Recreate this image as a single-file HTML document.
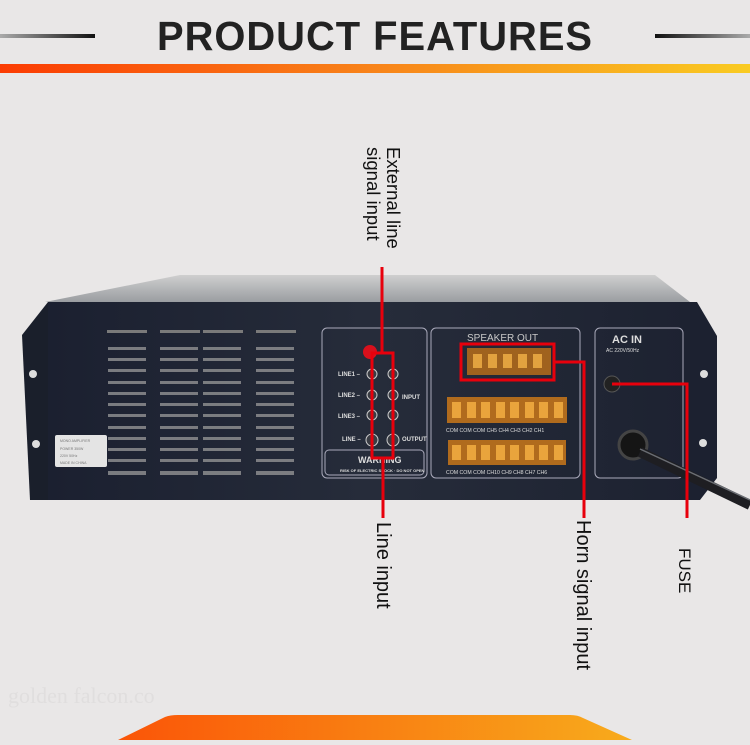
<!DOCTYPE html>
<html><head><meta charset="utf-8"><style>
html,body{margin:0;padding:0;}
body{width:750px;height:740px;overflow:hidden;background:#e9e7e7;font-family:"Liberation Sans",sans-serif;}
</style></head><body>
<svg width="750" height="740" viewBox="0 0 750 740" xmlns="http://www.w3.org/2000/svg">
<defs>
<linearGradient id="bar" x1="0" x2="1"><stop offset="0" stop-color="#fb3c03"/><stop offset="0.5" stop-color="#f8841a"/><stop offset="1" stop-color="#f9cb22"/></linearGradient>
<linearGradient id="bot" x1="0" x2="1"><stop offset="0" stop-color="#fa5508"/><stop offset="1" stop-color="#f8ab1c"/></linearGradient>
<linearGradient id="ll" x1="0" x2="1"><stop offset="0" stop-color="#aaa"/><stop offset="1" stop-color="#111"/></linearGradient>
<linearGradient id="rl" x1="0" x2="1"><stop offset="0" stop-color="#111"/><stop offset="1" stop-color="#aaa"/></linearGradient>
<linearGradient id="face" x1="0" x2="1"><stop offset="0" stop-color="#1b2030"/><stop offset="0.5" stop-color="#262c3a"/><stop offset="1" stop-color="#1d2231"/></linearGradient>
<linearGradient id="top" x1="0" y1="0" x2="0" y2="1"><stop offset="0" stop-color="#cfcfcf"/><stop offset="1" stop-color="#9a9da1"/></linearGradient>
</defs>
<rect width="750" height="740" fill="#e9e7e7"/>
<rect x="0" y="34" width="95" height="4" fill="url(#ll)"/>
<rect x="655" y="34" width="95" height="4" fill="url(#rl)"/>
<text x="375" y="50" text-anchor="middle" font-family="Liberation Sans" font-weight="bold" font-size="41" fill="#222" letter-spacing="1" textLength="436" lengthAdjust="spacingAndGlyphs">PRODUCT FEATURES</text>
<rect x="0" y="64" width="750" height="9" fill="url(#bar)"/>
<polygon points="45,302 180,275 655,275 690,302" fill="url(#top)"/>
<polygon points="22,335 48,302 50,500 30,500" fill="#1a1f2b"/>
<polygon points="687,302 697,302 717,336 717,478 700,500 690,500" fill="#1c2130"/>
<rect x="48" y="302" width="642" height="198" fill="url(#face)"/>
<circle cx="33" cy="374" r="4" fill="#ddd"/><circle cx="36" cy="444" r="4" fill="#ddd"/>
<circle cx="704" cy="374" r="4" fill="#ddd"/><circle cx="703" cy="443" r="4" fill="#ddd"/>
<g fill="#7a7a7a">
<rect x="107" y="330" width="40" height="3"/><rect x="160" y="330" width="40" height="3"/><rect x="203" y="330" width="40" height="3"/><rect x="256" y="330" width="40" height="3"/>
</g>
<g id="slats" fill="#9a9a9a" opacity="0.75">
<rect x="108" y="347" width="38" height="3"/><rect x="108" y="358" width="38" height="3"/><rect x="108" y="369" width="38" height="3"/><rect x="108" y="381" width="38" height="3"/><rect x="108" y="392" width="38" height="3"/><rect x="108" y="403" width="38" height="3"/><rect x="108" y="414" width="38" height="3"/><rect x="108" y="426" width="38" height="3"/><rect x="108" y="437" width="38" height="3"/><rect x="108" y="448" width="38" height="3"/><rect x="108" y="459" width="38" height="3"/><rect x="108" y="471" width="38" height="4"/>
</g>
<use href="#slats" x="52"/><use href="#slats" x="95"/><use href="#slats" x="148"/>
<rect x="55" y="435" width="52" height="32" fill="#e4e4e4" rx="2"/>
<g fill="#777" font-size="3.5"><text x="60" y="442">MONO AMPLIFIER</text><text x="60" y="450">POWER 350W</text><text x="60" y="457">220V 50Hz</text><text x="60" y="464">MADE IN CHINA</text></g>
<g fill="none" stroke="#aab" stroke-width="1">
<rect x="322" y="328" width="105" height="150" rx="5"/>
<rect x="431" y="328" width="149" height="150" rx="5"/>
<rect x="595" y="328" width="88" height="150" rx="5"/>
<rect x="325" y="450" width="99" height="25" rx="4"/>
</g>
<g fill="#ddd" font-size="6" font-weight="bold">
<text x="338" y="376">LINE1 –</text><text x="338" y="397">LINE2 –</text><text x="338" y="418">LINE3 –</text><text x="342" y="441">LINE –</text>
<text x="402" y="399">INPUT</text><text x="402" y="441">OUTPUT</text>
<text x="358" y="463" font-size="9">WARNING</text><text x="340" y="472" font-size="4">RISK OF ELECTRIC SHOCK · DO NOT OPEN</text>
<text x="467" y="341" font-size="10" font-weight="normal" fill="#c8c8c8">SPEAKER OUT</text>
<text x="612" y="343" font-size="11" fill="#ddd">AC IN</text>
<text x="606" y="352" font-size="5" font-weight="normal">AC 220V/50Hz</text>
</g>
<g fill="#3a3d44" stroke="#ccc" stroke-width="1">
<circle cx="372" cy="374" r="5"/><circle cx="393" cy="374" r="5"/><circle cx="372" cy="395" r="5"/><circle cx="393" cy="395" r="5"/><circle cx="372" cy="415" r="5"/><circle cx="393" cy="415" r="5"/><circle cx="372" cy="440" r="6"/><circle cx="393" cy="440" r="6"/>
</g>
<circle cx="370" cy="352" r="7" fill="#d8101c"/>
<rect x="467" y="348" width="84" height="27" fill="#a0621e"/>
<rect x="447" y="397" width="120" height="26" fill="#b06b1d"/>
<rect x="448" y="440" width="118" height="25" fill="#b06b1d"/>
<g fill="#e3a23f"><rect x="473" y="354" width="9" height="14"/><rect x="488" y="354" width="9" height="14"/><rect x="503" y="354" width="9" height="14"/><rect x="518" y="354" width="9" height="14"/><rect x="533" y="354" width="9" height="14"/></g>
<g fill="#e9a43c"><rect x="452" y="402" width="9" height="16"/><rect x="467" y="402" width="9" height="16"/><rect x="481" y="402" width="9" height="16"/><rect x="496" y="402" width="9" height="16"/><rect x="510" y="402" width="9" height="16"/><rect x="525" y="402" width="9" height="16"/><rect x="539" y="402" width="9" height="16"/><rect x="554" y="402" width="9" height="16"/>
<rect x="452" y="445" width="9" height="15"/><rect x="467" y="445" width="9" height="15"/><rect x="481" y="445" width="9" height="15"/><rect x="496" y="445" width="9" height="15"/><rect x="510" y="445" width="9" height="15"/><rect x="525" y="445" width="9" height="15"/><rect x="539" y="445" width="9" height="15"/><rect x="554" y="445" width="9" height="15"/></g>
<g fill="#ddd" font-size="5.2"><text x="446" y="432">COM COM COM CH5 CH4 CH3 CH2 CH1</text><text x="446" y="474">COM COM COM CH10 CH9 CH8 CH7 CH6</text></g>
<circle cx="612" cy="384" r="8" fill="#222" stroke="#555"/>
<circle cx="633" cy="445" r="14" fill="#151515" stroke="#444" stroke-width="3"/>
<path d="M640 452 L750 505" stroke="#1e1e22" stroke-width="10" fill="none"/>
<path d="M640 449 L750 500" stroke="#6a6d73" stroke-width="1.5" fill="none"/>
<g stroke="#e8000c" stroke-width="3" fill="none">
<path d="M382 267 V353"/>
<path d="M372 353 H393 V458 H372 Z"/>
<path d="M383 458 V518"/>
<rect x="461" y="344" width="93" height="36"/>
<path d="M554 362 H584 V518"/>
<path d="M612 384 H687 V518"/>
</g>
<g font-family="Liberation Sans" fill="#111">
<text transform="translate(387,147) rotate(90)" font-size="18.5">External line</text>
<text transform="translate(367,147) rotate(90)" font-size="18.5">signal input</text>
<text transform="translate(377,522) rotate(90)" font-size="20">Line input</text>
<text transform="translate(577,520) rotate(90)" font-size="20">Horn signal input</text>
<text transform="translate(679,548) rotate(90)" font-size="17">FUSE</text>
</g>
<text x="8" y="703" font-family="Liberation Serif" font-size="22" fill="#e0dede">golden falcon.co</text>
<path d="M118 740 L165 717 Q170 715 178 715 L570 715 Q578 715 583 718 L632 740 Z" fill="url(#bot)"/>
</svg>
</body></html>
